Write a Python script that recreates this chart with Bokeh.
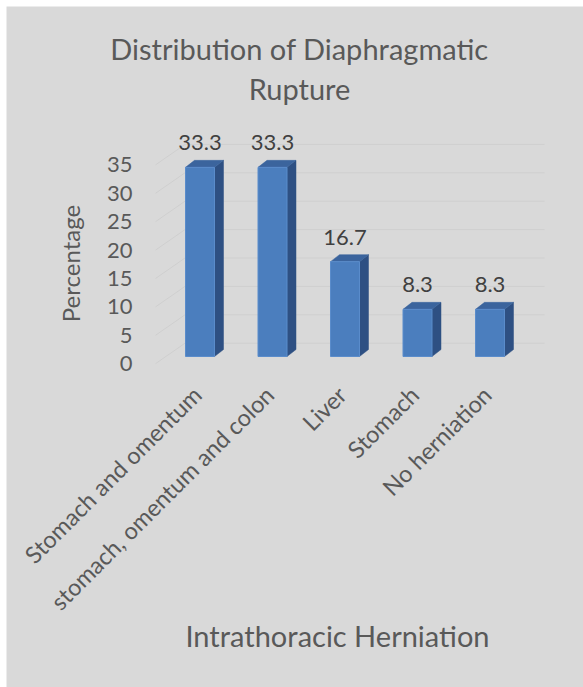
import numpy as np
from bokeh.plotting import figure
from bokeh.models import ColumnDataSource, LabelSet, Label, Range1d
from bokeh.core.properties import value
from bokeh.embed import file_html
from bokeh.resources import INLINE

# ---- data ----
categories = ["Stomach and omentum", "stomach, omentum and colon", "Liver", "Stomach", "No herniation"]
percentages = [33.3, 33.3, 16.7, 8.3, 8.3]
value_labels = ["33.3", "33.3", "16.7", "8.3", "8.3"]
y_ticks = [0, 5, 10, 15, 20, 25, 30, 35]
y_tick_labels = ["0", "5", "10", "15", "20", "25", "30", "35"]

title_lines = ["Distribution of Diaphragmatic", "Rupture"]
x_title = "Intrathoracic Herniation"
y_title = "Percentage"

# ---- styling ----
FONT = "Lato"
BG = "#d9d9d9"
GRID = "#cfcfcf"
FRONT = "#4b7ebe"
TOP = "#3b649d"
SIDE = "#2e5083"
EDGE = "#5a8ccb"
TEXT = "#595959"
VALUE_TEXT = "#404040"

# ---- geometry (page pixels) ----
PAGE_W, PAGE_H = 583, 687
PAD = 6              # white edge left/top of the chart area
CAT_STEP = 72.5      # px between category centres
CAT0 = 199.5         # page x of first category centre
Y0 = 363.2           # page y of value 0 on the front of the wall
UNIT = 5.68          # px per percentage point


def px_w(px):
    return px / CAT_STEP


def px_h(px):
    return px / UNIT


def X(page_x):
    return (page_x - CAT0) / CAT_STEP


def Y(page_y):
    return (Y0 - page_y) / UNIT


p = figure(
    width=PAGE_W, height=PAGE_H,
    x_range=Range1d(X(PAD), X(PAGE_W)),
    y_range=Range1d(Y(PAGE_H), Y(PAD)),
    x_axis_location=None, y_axis_location=None,
    toolbar_location=None,
    output_backend="svg",
    min_border_left=PAD, min_border_top=PAD,
    min_border_right=0, min_border_bottom=0,
    background_fill_color=BG, border_fill_color="white",
    outline_line_color=None,
)
p.grid.visible = False

# value-axis tick labels
tick_src = ColumnDataSource(dict(x=np.full(len(y_ticks), X(132)), y=y_ticks, text=y_tick_labels))
p.add_layout(LabelSet(x="x", y="y", text="text", source=tick_src,
                      text_align="right", text_baseline="middle",
                      text_font=value(FONT), text_font_size=value("22px"),
                      text_color=TEXT))

# back-wall gridlines with their perspective side segments
wall_dy = px_h(20.5)
x_front, x_back, x_end = X(155), X(184.5), X(544)
grid_xs = [[x_front, x_back, x_end] for _ in y_ticks]
grid_ys = [[t, t + wall_dy, t + wall_dy] for t in y_ticks]
p.multi_line(grid_xs, grid_ys, line_color=GRID, line_width=1)

# 3-D columns
idx = np.arange(len(categories), dtype=float)
vals = np.array(percentages)
half = px_w(29) / 2
base = Y(356)
ddx, ddy = px_w(9), px_h(7)
left = idx - half
right = idx + half
top = base + vals

side_xs = [[r, r + ddx, r + ddx, r] for r in right]
side_ys = [[base, base + ddy, t + ddy, t] for t in top]
top_xs = [[l, l + ddx, r + ddx, r] for l, r in zip(left, right)]
top_ys = [[t, t + ddy, t + ddy, t] for t in top]

p.patches(side_xs, side_ys, fill_color=SIDE, line_color=SIDE, line_width=0.5)
p.patches(top_xs, top_ys, fill_color=TOP, line_color=TOP, line_width=0.5)
p.quad(left=left, right=right, bottom=base, top=top,
       fill_color=FRONT, line_color=EDGE, line_width=1)

# value labels above each column
val_src = ColumnDataSource(dict(x=idx, y=top + px_h(24.5), text=value_labels))
p.add_layout(LabelSet(x="x", y="y", text="text", source=val_src,
                      text_align="center", text_baseline="middle",
                      text_font=value(FONT), text_font_size=value("22px"),
                      text_color=VALUE_TEXT))

# rotated category labels, ending just left of each column centre
cat_src = ColumnDataSource(dict(x=idx - px_w(3), y=np.full(len(idx), Y(390)), text=categories))
p.add_layout(LabelSet(x="x", y="y", text="text", source=cat_src,
                      angle=np.pi / 4, text_align="right", text_baseline="middle",
                      text_font=value(FONT), text_font_size=value("23.5px"),
                      text_color=TEXT))

# titles
p.add_layout(Label(x=X(299), y=Y(48), text=title_lines[0],
                   text_align="center", text_baseline="middle",
                   text_font=FONT, text_font_size="29px", text_color=TEXT))
p.add_layout(Label(x=X(299), y=Y(88), text=title_lines[1],
                   text_align="center", text_baseline="middle",
                   text_font=FONT, text_font_size="29px", text_color=TEXT))
p.add_layout(Label(x=X(337), y=Y(635), text=x_title,
                   text_align="center", text_baseline="middle",
                   text_font=FONT, text_font_size="29px", text_color=TEXT))
p.add_layout(Label(x=X(70), y=Y(263), text=y_title, angle=np.pi / 2,
                   text_align="center", text_baseline="middle",
                   text_font=FONT, text_font_size="24px", text_color=TEXT))

open("out.html", "w").write(file_html(p, INLINE))
